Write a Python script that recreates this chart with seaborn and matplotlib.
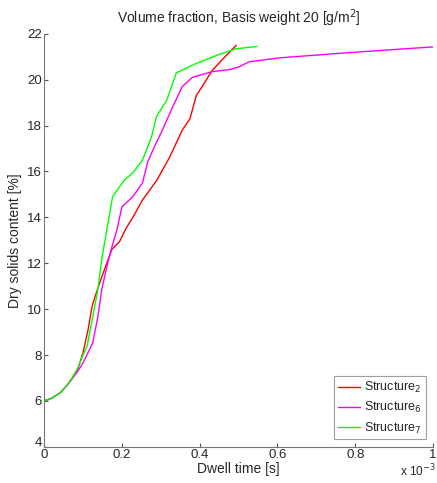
import numpy as np
import pandas as pd
import matplotlib
matplotlib.use("Agg")
import matplotlib.pyplot as plt
import matplotlib.transforms as mtrans
import seaborn as sns

# dwell time in units of 1e-3 s, dry solids content in %
t_s2 = [0.0, 0.02, 0.041, 0.06, 0.074, 0.087, 0.1, 0.113, 0.123, 0.13, 0.143, 0.161, 0.174,
        0.194, 0.21, 0.228, 0.253, 0.289, 0.322, 0.355, 0.375, 0.391, 0.41, 0.432, 0.465, 0.494]
y_s2 = [6.0, 6.12, 6.35, 6.7, 7.05, 7.4, 8.1, 9.1, 10.1, 10.5, 11.15, 12.0, 12.6,
        12.95, 13.5, 14.0, 14.76, 15.6, 16.6, 17.8, 18.3, 19.3, 19.8, 20.4, 21.0, 21.5]

t_s6 = [0.0, 0.02, 0.041, 0.06, 0.074, 0.087, 0.1, 0.125, 0.138, 0.148, 0.161, 0.174, 0.187,
        0.2, 0.228, 0.253, 0.266, 0.284, 0.304, 0.33, 0.355, 0.381, 0.432, 0.48, 0.501, 0.527,
        0.604, 0.775, 1.0]
y_s6 = [6.0, 6.12, 6.35, 6.7, 7.0, 7.3, 7.66, 8.53, 9.66, 10.84, 11.84, 12.7, 13.45,
        14.46, 14.9, 15.5, 16.4, 17.1, 17.8, 18.8, 19.7, 20.1, 20.35, 20.45, 20.56, 20.78,
        20.95, 21.17, 21.43]

t_s7 = [0.0, 0.02, 0.041, 0.06, 0.074, 0.087, 0.1, 0.11, 0.125, 0.138, 0.148, 0.161, 0.176,
        0.207, 0.228, 0.253, 0.276, 0.289, 0.315, 0.34, 0.39, 0.45, 0.494, 0.547]
y_s7 = [6.0, 6.12, 6.35, 6.7, 7.05, 7.45, 8.0, 8.36, 9.66, 10.85, 12.15, 13.45, 14.9,
        15.64, 15.94, 16.5, 17.5, 18.4, 19.1, 20.3, 20.7, 21.1, 21.35, 21.45]

labels = ["Structure$_2$", "Structure$_6$", "Structure$_7$"]
colors = ["#ff0000", "#ff00ff", "#00ff00"]

df = pd.concat([
    pd.DataFrame({"t": t_s2, "y": y_s2, "s": labels[0]}),
    pd.DataFrame({"t": t_s6, "y": y_s6, "s": labels[1]}),
    pd.DataFrame({"t": t_s7, "y": y_s7, "s": labels[2]}),
])

sns.set_style("ticks")
plt.rcParams["font.family"] = ["Liberation Sans", "DejaVu Sans"]

fig = plt.figure(figsize=(4.37, 4.83), dpi=100)
ax = fig.add_axes([0.101, 0.075, 0.89, 0.855])
sns.lineplot(data=df, x="t", y="y", hue="s", palette=colors, sort=False,
             estimator=None, linewidth=1.0, ax=ax)

ax.set_xlim(0, 1)
ax.set_ylim(4, 22)
ax.set_xticks([0, 0.2, 0.4, 0.6, 0.8, 1])
ax.set_xticklabels(["0", "0.2", "0.4", "0.6", "0.8", "1"])
ax.set_yticks(range(4, 23, 2))
ax.tick_params(direction="in", length=3, labelsize=9.5, color="#555555", pad=1.5)
for sp in ["top", "right"]:
    ax.spines[sp].set_visible(False)
for sp in ["left", "bottom"]:
    ax.spines[sp].set_color("#777777")
    ax.spines[sp].set_linewidth(0.8)

# lift the bottom "4" a little so it doesn't sit on the x "0"
lab4 = ax.get_yticklabels()[0]
lab4.set_transform(lab4.get_transform() + mtrans.ScaledTranslation(0, 4 / 72, fig.dpi_scale_trans))

ax.set_xlabel("Dwell time [s]", fontsize=10, labelpad=1)
ax.set_ylabel("Dry solids content [%]", fontsize=10, labelpad=4)
ax.set_title("Volume fraction, Basis weight 20 [g/m$^2$]", fontsize=10, pad=8)
fig.text(0.997, 0.024, "x 10$^{-3}$", fontsize=8.5, ha="right", va="center")

leg = ax.legend(loc="lower right", fontsize=9, frameon=True, fancybox=False,
                handlelength=1.8, borderaxespad=0.6, labelspacing=0.4,
                borderpad=0.3, handletextpad=0.3)
leg.get_frame().set_edgecolor("#888888")
leg.get_frame().set_linewidth(0.8)

fig.savefig("out.png", dpi=100)
